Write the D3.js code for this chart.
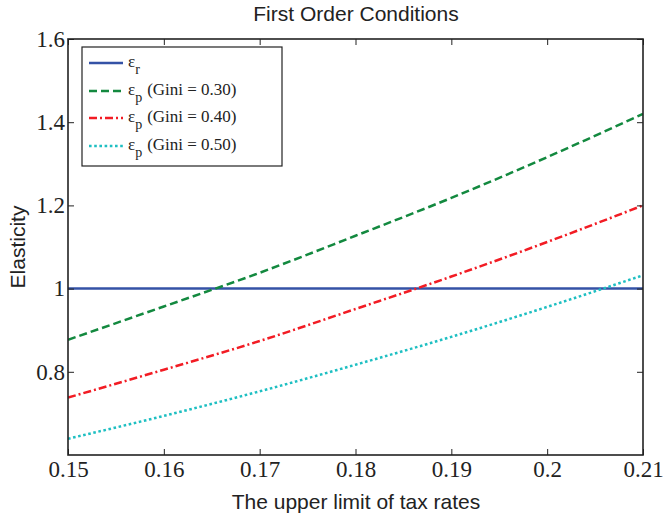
<!DOCTYPE html>
<html>
<head>
<meta charset="utf-8">
<script src="https://cdn.jsdelivr.net/npm/d3@7"></script>
<style>
  body { margin: 0; background: #fff; }
  svg { display: block; }
</style>
</head>
<body>
<svg id="chart" width="664" height="520"></svg>
<script>
// Upper limit of tax rates (x) and elasticities
const taxRates = [0.15, 0.16, 0.17, 0.18, 0.19, 0.20, 0.21];
const epsR      = [1.0, 1.0, 1.0, 1.0, 1.0, 1.0, 1.0];
const epsGini30 = [0.877, 0.957, 1.038, 1.127, 1.218, 1.316, 1.42];
const epsGini40 = [0.738, 0.805, 0.874, 0.951, 1.029, 1.112, 1.20];
const epsGini50 = [0.639, 0.694, 0.753, 0.817, 0.884, 0.956, 1.032];

const xTicks = [0.15, 0.16, 0.17, 0.18, 0.19, 0.20, 0.21];
const xTickLabels = ["0.15", "0.16", "0.17", "0.18", "0.19", "0.2", "0.21"];
const yTicks = [0.8, 1.0, 1.2, 1.4, 1.6];
const yTickLabels = ["0.8", "1", "1.2", "1.4", "1.6"];

const seriesNames = ["r", "p", "p", "p"];
const seriesNotes = ["", "(Gini = 0.30)", "(Gini = 0.40)", "(Gini = 0.50)"];

const series = [
  { values: epsR,      color: "#3452a6", dash: null },
  { values: epsGini30, color: "#13893f", dash: "8,4" },
  { values: epsGini40, color: "#f21c24", dash: "8,3,2,3" },
  { values: epsGini50, color: "#1ebfc2", dash: "2.6,2.6" }
];

const svg = d3.select("#chart");
const m = { left: 68, right: 643, top: 39, bottom: 455 };

const x = d3.scaleLinear().domain([0.15, 0.21]).range([m.left, m.right]);
const y = d3.scaleLinear().domain([0.6, 1.6]).range([m.bottom, m.top]);

const serif = "'Liberation Serif', 'DejaVu Serif', serif";
const sans = "'Liberation Sans', Arial, sans-serif";

// Series lines
const line = d3.line().x((d, i) => x(taxRates[i])).y(d => y(d)).curve(d3.curveMonotoneX);
svg.append("clipPath").attr("id", "plotclip")
  .append("rect").attr("x", m.left).attr("y", m.top)
  .attr("width", m.right - m.left).attr("height", m.bottom - m.top);

svg.append("g").attr("clip-path", "url(#plotclip)")
  .selectAll("path").data(series).join("path")
  .attr("d", d => line(d.values))
  .attr("fill", "none")
  .attr("stroke", d => d.color)
  .attr("stroke-width", 2.5)
  .attr("stroke-dasharray", d => d.dash);

// Axes with inward ticks on all four sides
const tickLen = 6;
const axB = d3.axisBottom(x).tickValues(xTicks).tickFormat((d, i) => xTickLabels[i]).tickSizeInner(-tickLen).tickSizeOuter(0).tickPadding(6);
const axT = d3.axisTop(x).tickValues(xTicks).tickFormat("").tickSizeInner(-tickLen).tickSizeOuter(0);
const axL = d3.axisLeft(y).tickValues(yTicks).tickFormat((d, i) => yTickLabels[i]).tickSizeInner(-tickLen).tickSizeOuter(0).tickPadding(3);
const axR = d3.axisRight(y).tickValues(yTicks).tickFormat("").tickSizeInner(-tickLen).tickSizeOuter(0);

function styleAxis(g) {
  g.select(".domain").remove();
  g.selectAll(".tick line").attr("stroke", "#222").attr("stroke-width", 1);
  g.selectAll(".tick text").attr("fill", "#222").style("font-family", serif).style("font-size", "23px");
}
svg.append("g").attr("transform", `translate(0,${m.bottom})`).call(axB).call(styleAxis);
svg.append("g").attr("transform", `translate(0,${m.top})`).call(axT).call(styleAxis);
svg.append("g").attr("transform", `translate(${m.left},0)`).call(axL).call(styleAxis);
svg.append("g").attr("transform", `translate(${m.right},0)`).call(axR).call(styleAxis);

// Plot box
svg.append("rect").attr("x", m.left).attr("y", m.top)
  .attr("width", m.right - m.left).attr("height", m.bottom - m.top)
  .attr("fill", "none").attr("stroke", "#222").attr("stroke-width", 1.6);

// Title and axis labels
svg.append("text").attr("x", 356).attr("y", 21)
  .attr("text-anchor", "middle").style("font-family", sans).style("font-size", "21px")
  .attr("fill", "#222").text("First Order Conditions");
svg.append("text").attr("x", 356).attr("y", 509)
  .attr("text-anchor", "middle").style("font-family", sans).style("font-size", "21px")
  .attr("fill", "#222").text("The upper limit of tax rates");
svg.append("text").attr("transform", `translate(25,${(m.top + m.bottom) / 2}) rotate(-90)`)
  .attr("text-anchor", "middle").style("font-family", sans).style("font-size", "21px")
  .attr("fill", "#222").text("Elasticity");

// Legend
const lg = svg.append("g");
lg.append("rect").attr("x", 82).attr("y", 47).attr("width", 200).attr("height", 119)
  .attr("fill", "#fff").attr("stroke", "#222").attr("stroke-width", 1.2);
const rowY = [63, 91, 118, 146];
series.forEach((s, i) => {
  lg.append("line").attr("x1", 89).attr("x2", 123).attr("y1", rowY[i]).attr("y2", rowY[i])
    .attr("stroke", s.color).attr("stroke-width", 2.5).attr("stroke-dasharray", s.dash);
  const t = lg.append("text").attr("x", 128).attr("y", rowY[i] + 4)
    .style("font-family", serif).style("font-size", "17px").attr("fill", "#222");
  t.append("tspan").text("ε");
  t.append("tspan").attr("dy", 7).style("font-size", "14px").text(seriesNames[i]);
  if (seriesNotes[i]) {
    t.append("tspan").attr("dy", -7).attr("dx", 5).text(seriesNotes[i]);
  }
});
</script>
</body>
</html>
